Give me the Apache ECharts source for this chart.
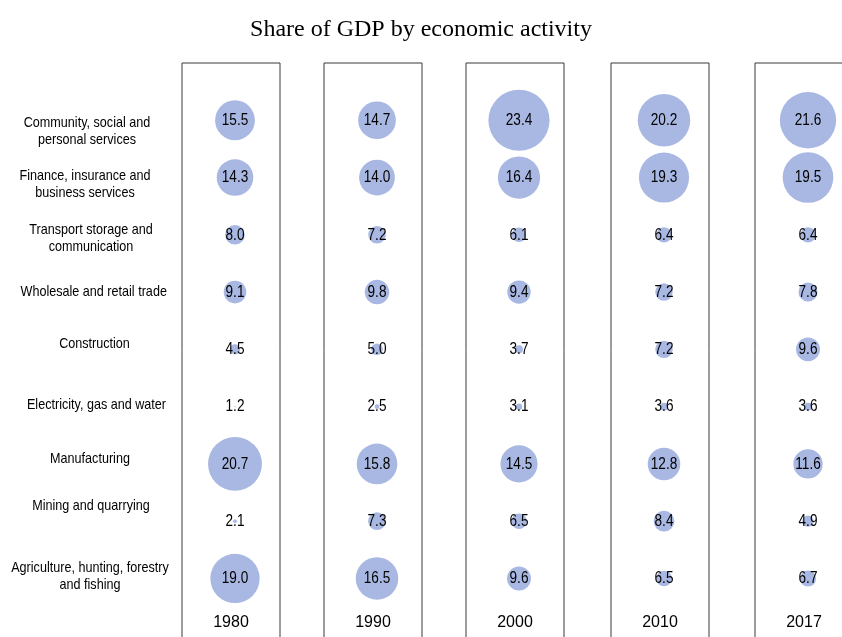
<!DOCTYPE html>
<html>
<head>
<meta charset="utf-8">
<title>Share of GDP by economic activity</title>
<script src="https://cdn.jsdelivr.net/npm/echarts@6/dist/echarts.min.js"></script>
<style>
  html, body { margin: 0; padding: 0; background: #ffffff; }
  #chart { width: 842px; height: 637px; }
</style>
</head>
<body>
<div id="chart"></div>
<script>
// ---- data -------------------------------------------------------------
const chartTitle = 'Share of GDP by economic activity';

const activities = [
  'Community, social and\npersonal services',
  'Finance, insurance and\nbusiness services',
  'Transport storage and\ncommunication',
  'Wholesale and retail trade',
  'Construction',
  'Electricity, gas and water',
  'Manufacturing',
  'Mining and quarrying',
  'Agriculture, hunting, forestry\nand fishing'
];

const years = ['1980', '1990', '2000', '2010', '2017'];

// share of GDP (%) per activity, same order as `activities`
const share1980 = [15.5, 14.3, 8.0, 9.1, 4.5, 1.2, 20.7, 2.1, 19.0];
const share1990 = [14.7, 14.0, 7.2, 9.8, 5.0, 2.5, 15.8, 7.3, 16.5];
const share2000 = [23.4, 16.4, 6.1, 9.4, 3.7, 3.1, 14.5, 6.5, 9.6];
const share2010 = [20.2, 19.3, 6.4, 7.2, 7.2, 3.6, 12.8, 8.4, 6.5];
const share2017 = [21.6, 19.5, 6.4, 7.8, 9.6, 3.6, 11.6, 4.9, 6.7];

const sharesByYear = [share1980, share1990, share2000, share2010, share2017];

// ---- styling ------------------------------------------------------------
const SANS = "'Liberation Sans', Arial, sans-serif";
const SERIF = "'Liberation Serif', 'Times New Roman', serif";
const BUBBLE = '#a8b8e2';
const FRAME = '#3a3a3a';
const NARROW_SCALE = 0.83;   // condensed look for the sans labels

// framed panel for each year
const panelLeft = [182, 324, 466, 611, 755];
const panelWidth = 98;
const panelTop = 63;
const panelHeight = 630;

// small per-row nudges of the activity captions [dx, dy] in px
const captionNudge = [[-3, 11], [-5, 6.6], [1, 4], [3.7, 0], [4.5, -5.5],
                      [6.5, -1.8], [0, -5.1], [1, -15.4], [0, -2.5]];
const captionCenterGap = 92;   // caption centre sits this far left of the first panel

// row axis: a spacer slot above and two below the activity rows
const rowAxis = ['', ...activities, '', ''];

// bubble diameter grows with the share
const bubbleDiameter = v => Math.max(0.5, 2.7 * v - 2);

const grid = [], xAxis = [], yAxis = [], series = [];

years.forEach((year, p) => {
  grid.push({
    left: panelLeft[p],
    top: panelTop,
    width: panelWidth,
    height: panelHeight,
    show: true,
    borderColor: FRAME,
    borderWidth: 1,
    backgroundColor: 'transparent',
    containLabel: false,
    outerBoundsMode: 'none'
  });
  xAxis.push({
    type: 'category',
    gridIndex: p,
    data: [year],
    boundaryGap: true,
    axisLine: { show: false },
    axisTick: { show: false },
    splitLine: { show: false },
    axisLabel: {
      inside: true,
      margin: 62,
      fontFamily: SANS,
      fontSize: 16,
      lineHeight: 17,
      color: '#000000'
    }
  });
  yAxis.push({
    type: 'category',
    gridIndex: p,
    data: rowAxis,
    inverse: true,
    boundaryGap: false,
    axisLine: { show: false },
    axisTick: { show: false },
    splitLine: { show: false },
    axisLabel: { show: false }
  });
  series.push({
    type: 'custom',
    name: year,
    xAxisIndex: p,
    yAxisIndex: p,
    data: sharesByYear[p].map((v, k) => [0, k + 1, v]),
    clip: false,
    silent: true,
    z: 3,
    renderItem: (params, api) => {
      const v = api.value(2);
      const c = api.coord([api.value(0), api.value(1)]);
      const cx = c[0] + 4;
      return {
        type: 'group',
        children: [
          {
            type: 'circle',
            shape: { cx: cx, cy: c[1], r: bubbleDiameter(v) / 2 },
            style: { fill: BUBBLE }
          },
          {
            type: 'text',
            x: cx,
            y: c[1],
            scaleX: 0.8,
            style: {
              text: v.toFixed(1),
              x: 0, y: 0,
              align: 'center',
              verticalAlign: 'middle',
              fontFamily: SANS,
              fontSize: 17,
              fill: '#000000'
            }
          }
        ]
      };
    }
  });
});

// activity captions to the left of the first panel
series.push({
  type: 'custom',
  name: 'activities',
  xAxisIndex: 0,
  yAxisIndex: 0,
  data: activities.map((a, k) => [0, k + 1]),
  clip: false,
  silent: true,
  z: 4,
  renderItem: (params, api) => {
    const i = params.dataIndex;
    const c = api.coord([api.value(0), api.value(1)]);
    const [dx, dy] = captionNudge[i];
    return {
      type: 'text',
      x: params.coordSys.x - captionCenterGap + dx,
      y: c[1] + dy,
      scaleX: NARROW_SCALE + 0.01,
      style: {
        text: activities[i],
        x: 0, y: 0,
        align: 'center',
        verticalAlign: 'middle',
        fontFamily: SANS,
        fontSize: 15,
        lineHeight: 17,
        fill: '#000000'
      }
    };
  }
});

const chart = echarts.init(document.getElementById('chart'), null, { renderer: 'canvas' });
chart.setOption({
  animation: false,
  backgroundColor: '#ffffff',
  title: {
    text: chartTitle,
    left: 'center',
    top: 18,
    padding: 0,
    textStyle: {
      fontFamily: SERIF,
      fontSize: 24,
      fontWeight: 'normal',
      color: '#000000'
    }
  },
  tooltip: { show: false },
  grid: grid,
  xAxis: xAxis,
  yAxis: yAxis,
  series: series
});
</script>
</body>
</html>
